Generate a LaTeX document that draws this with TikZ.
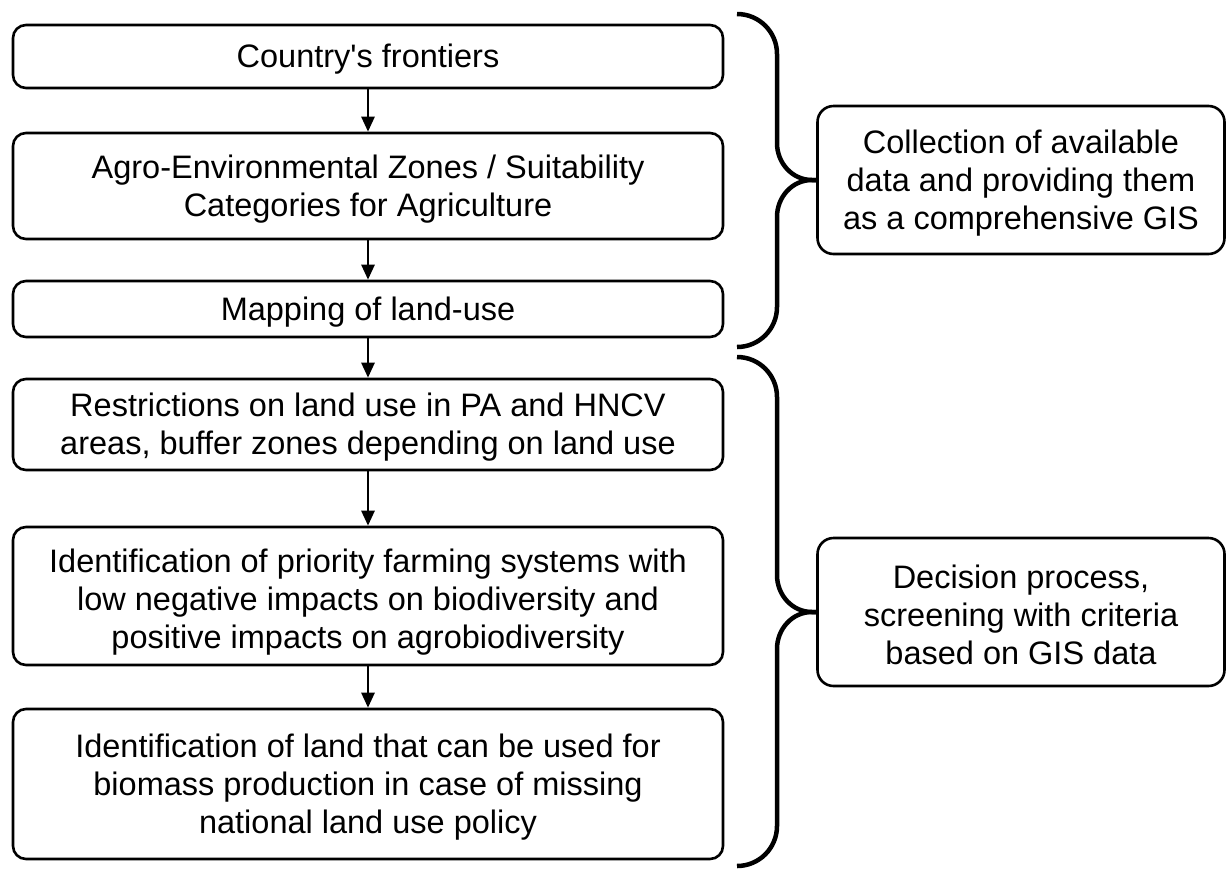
\documentclass[tikz,border=0pt]{standalone}
\usepackage{fontspec}
\setmainfont{Liberation Sans}[Ligatures=TeXOff]
\usepackage{tikz}
\usetikzlibrary{arrows.meta,positioning}

\tikzset{
  stepbox/.style={rectangle,draw,line width=2.6pt,rounded corners=13pt,
    minimum width=710pt,inner sep=0pt},
  sidebox/.style={rectangle,draw,line width=2.6pt,rounded corners=16pt,
    minimum width=407pt,minimum height=148pt,inner sep=0pt},
  steptext/.style={align=center,inner sep=0pt,yshift=-3pt,
    font=\fontsize{32.5}{38}\selectfont},
  sidetext/.style={steptext},
  flow/.style={-{Triangle[width=13pt,length=15pt]},line width=2.6pt},
  bracket/.style={line width=4.5pt}
}

\begin{document}
\begin{tikzpicture}[x=1pt,y=-1pt]
\useasboundingbox (0,0) rectangle (1229,871);

% Left column - steps
\node[stepbox,minimum height=63pt,label={[steptext]center:{Country's frontiers}}] (country) at (368,56.5) {};
\node[stepbox,minimum height=106pt,label={[steptext]center:{Agro-Environmental Zones / Suitability\\Categories for Agriculture}}] (zones) at (368,186) {};
\node[stepbox,minimum height=56pt,label={[steptext]center:{Mapping of land-use}}] (landuse) at (368,309) {};
\node[stepbox,minimum height=91pt,label={[steptext]center:{Restrictions on land use in PA and HNCV\\areas, buffer zones depending on land use}}] (restrict) at (368,424.5) {};
\node[stepbox,minimum height=138pt,label={[steptext,yshift=-3pt]center:{Identification of priority farming systems with\\low negative impacts on biodiversity and\\positive impacts on agrobiodiversity}}] (priority) at (368,596) {};
\node[stepbox,minimum height=150pt,label={[steptext]center:{Identification of land that can be used for\\biomass production in case of missing\\national land use policy}}] (biomass) at (368,784) {};

% Right column - phases
\node[sidebox,label={[sidetext]center:{Collection of available\\data and providing them\\as a comprehensive GIS}}] (collect) at (1021,180) {};
\node[sidebox,label={[sidetext]center:{Decision process,\\screening with criteria\\based on GIS data}}] (decide) at (1021,612) {};

% Arrows
\draw[flow] (country) -- (zones);
\draw[flow] (zones) -- (landuse);
\draw[flow] (landuse) -- (restrict);
\draw[flow] (restrict) -- (priority);
\draw[flow] (priority) -- (biomass);

% Braces
\draw[bracket] (737,14) to[out=0,in=90] (777,54) -- (777,143)
  to[out=-90,in=180] (812,180) -- (collect.west);
\draw[bracket] (collect.west) -- (812,180) to[out=180,in=90] (777,217)
  -- (777,307) to[out=-90,in=0] (737,347);
\draw[bracket] (737,357) to[out=0,in=90] (777,397) -- (777,575)
  to[out=-90,in=180] (812,612) -- (decide.west);
\draw[bracket] (decide.west) -- (812,612) to[out=180,in=90] (777,649)
  -- (777,826) to[out=-90,in=0] (737,866);

\end{tikzpicture}
\end{document}
